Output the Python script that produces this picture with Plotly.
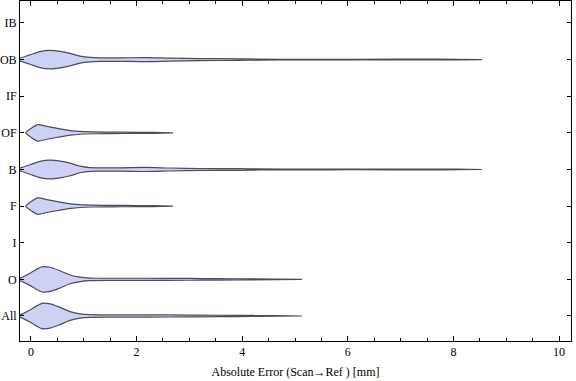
import plotly.graph_objects as go

# categories bottom -> top
categories = ["All", "O", "I", "F", "B", "OF", "IF", "OB", "IB"]

# violin profiles: error values [mm] and half-widths (category units)
all_x  = [-0.28, -0.21, -0.02, 0.10, 0.21, 0.36, 0.55, 0.74, 0.93, 1.12, 1.5, 2.2, 3.0, 3.5, 4.2, 5.13]
all_hw = [0.0, 0.03, 0.165, 0.27, 0.345, 0.33, 0.235, 0.12, 0.06, 0.038, 0.032, 0.03, 0.026, 0.02, 0.014, 0.0]

o_x  = [-0.28, -0.21, -0.02, 0.10, 0.21, 0.36, 0.55, 0.74, 0.93, 1.12, 1.5, 2.2, 3.0, 3.5, 4.2, 5.13]
o_hw = [0.0, 0.03, 0.165, 0.27, 0.345, 0.33, 0.235, 0.12, 0.06, 0.036, 0.03, 0.03, 0.025, 0.02, 0.014, 0.0]

f_x  = [-0.10, 0.0, 0.13, 0.30, 0.55, 0.75, 0.93, 1.17, 1.5, 2.0, 2.3, 2.69]
f_hw = [0.0, 0.12, 0.225, 0.175, 0.11, 0.063, 0.038, 0.025, 0.019, 0.016, 0.013, 0.0]

b_x  = [-0.59, -0.4, -0.21, -0.02, 0.17, 0.36, 0.55, 0.74, 0.93, 1.12, 1.31, 1.69, 2.16, 2.63, 3.2, 3.96, 4.3, 5.1, 6.04, 7.75, 8.54]
b_hw = [0.0, 0.019, 0.041, 0.13, 0.22, 0.254, 0.227, 0.172, 0.09, 0.05, 0.046, 0.046, 0.055, 0.041, 0.027, 0.024, 0.014, 0.009, 0.008, 0.011, 0.0]

of_x  = [-0.10, 0.0, 0.13, 0.30, 0.55, 0.75, 0.93, 1.17, 1.5, 2.0, 2.3, 2.69]
of_hw = [0.0, 0.12, 0.225, 0.175, 0.11, 0.063, 0.038, 0.025, 0.019, 0.016, 0.013, 0.0]

ob_x  = [-0.59, -0.4, -0.21, -0.02, 0.17, 0.36, 0.55, 0.74, 0.93, 1.12, 1.31, 1.69, 2.16, 2.63, 3.2, 3.96, 4.3, 5.1, 6.04, 7.75, 8.54]
ob_hw = [0.0, 0.019, 0.041, 0.128, 0.219, 0.254, 0.227, 0.172, 0.096, 0.06, 0.049, 0.046, 0.055, 0.041, 0.027, 0.022, 0.014, 0.008, 0.008, 0.011, 0.0]

profiles = {
    "All": (all_x, all_hw),
    "O": (o_x, o_hw),
    "F": (f_x, f_hw),
    "B": (b_x, b_hw),
    "OF": (of_x, of_hw),
    "OB": (ob_x, ob_hw),
}

x_ticks = [0, 2, 4, 6, 8, 10]

fig = go.Figure()
for name, (xs, hw) in profiles.items():
    c = categories.index(name) + 1
    px = list(xs) + list(xs[::-1])
    py = [c + h for h in hw] + [c - h for h in hw[::-1]]
    fig.add_trace(go.Scatter(
        x=px, y=py, mode="lines", fill="toself",
        fillcolor="rgb(205,210,245)",
        line=dict(color="rgb(75,75,90)", width=1.2, shape="spline", smoothing=0.8),
        cliponaxis=False, hoverinfo="skip", showlegend=False,
    ))

font_family = "Liberation Serif, DejaVu Serif, serif"
fig.update_layout(
    width=576, height=381,
    margin=dict(l=20, r=5, t=1, b=40, autoexpand=False),
    plot_bgcolor="white", paper_bgcolor="white",
    font=dict(family=font_family, size=12, color="black"),
    showlegend=False,
    xaxis=dict(
        range=[-0.208, 10.227], tickvals=x_ticks, ticks="inside", ticklen=5,
        tickcolor="black", minor=dict(dtick=0.5, ticks="inside", ticklen=3, tickcolor="black"),
        showline=True, linecolor="black", linewidth=1, mirror="ticks",
        showgrid=False, zeroline=False, automargin=False,
        title=dict(text="Absolute Error (Scan→Ref ) [mm]", font=dict(size=12), standoff=9),
    ),
    yaxis=dict(
        range=[0.317, 9.60], tickvals=list(range(1, len(categories) + 1)), ticktext=categories,
        ticks="inside", ticklen=4, tickcolor="black",
        showline=True, linecolor="black", linewidth=1, mirror="ticks",
        showgrid=False, zeroline=False, automargin=False,
    ),
)
fig.write_html("out.html", config={"displayModeBar": False},
               post_script="document.body.style.margin='0';")
